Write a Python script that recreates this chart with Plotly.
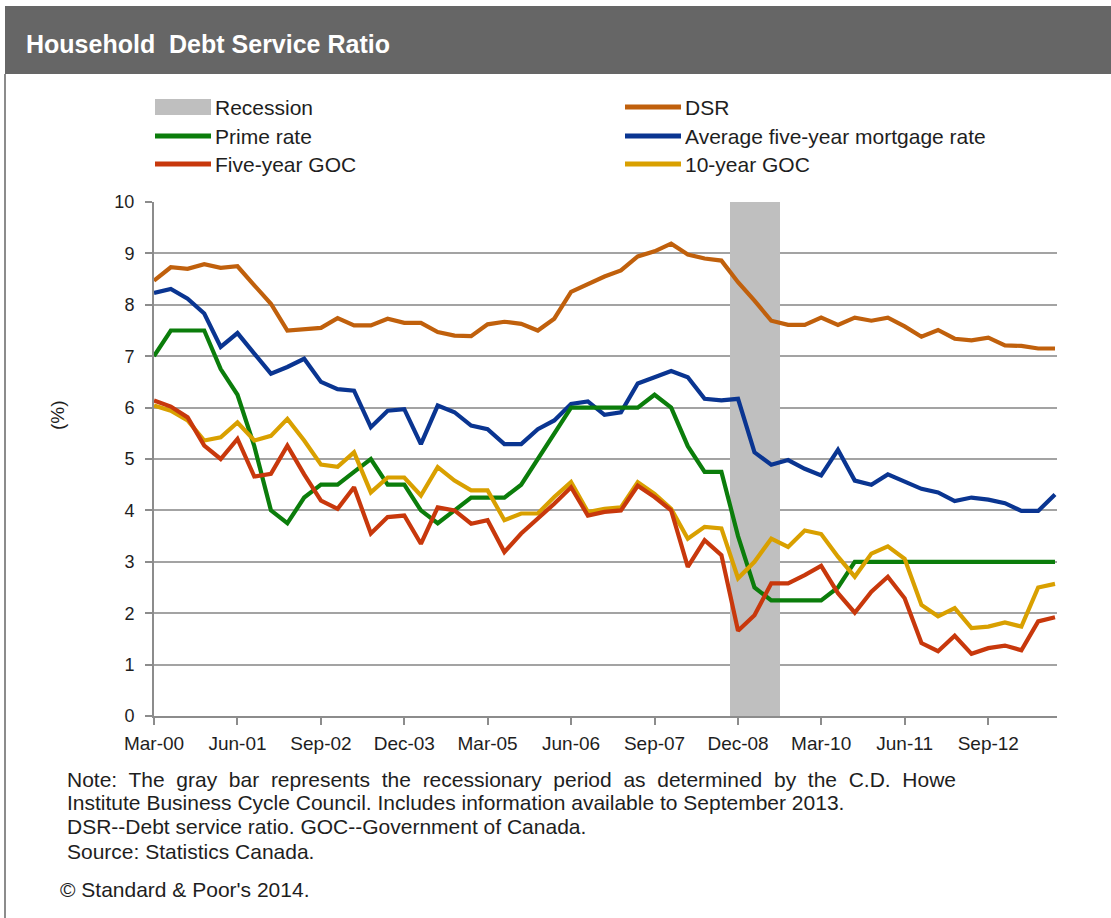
import pandas as pd
import plotly.graph_objects as go

# Quarterly observations, Mar-2000 through Sep-2013
quarters = pd.date_range("2000-03-01", periods=55, freq="3MS")

dsr = [8.47, 8.73, 8.70, 8.79, 8.72, 8.75, 8.38, 8.02, 7.50, 7.53,
       7.55, 7.74, 7.60, 7.60, 7.73, 7.65, 7.65, 7.47, 7.40, 7.39,
       7.62, 7.67, 7.63, 7.50, 7.73, 8.25, 8.40, 8.55, 8.67, 8.94,
       9.04, 9.19, 8.98, 8.90, 8.86, 8.44, 8.08, 7.69, 7.61, 7.61,
       7.75, 7.61, 7.75, 7.69, 7.75, 7.58, 7.38, 7.51, 7.34, 7.31,
       7.36, 7.21, 7.20, 7.15, 7.15]

mortgage_5y = [8.23, 8.31, 8.12, 7.83, 7.18, 7.45, 7.05, 6.66, 6.79, 6.95,
               6.50, 6.36, 6.33, 5.62, 5.94, 5.97, 5.29, 6.04, 5.91, 5.65,
               5.58, 5.29, 5.29, 5.58, 5.75, 6.07, 6.12, 5.86, 5.91, 6.47,
               6.59, 6.71, 6.59, 6.17, 6.14, 6.17, 5.13, 4.89, 4.98, 4.81,
               4.68, 5.18, 4.58, 4.50, 4.70, 4.55, 4.42, 4.35, 4.18, 4.25,
               4.21, 4.14, 3.99, 3.99, 4.31]

prime = [7.00, 7.50, 7.50, 7.50, 6.75, 6.25, 5.25, 4.00, 3.75, 4.25,
         4.50, 4.50, 4.75, 5.00, 4.50, 4.50, 4.00, 3.75, 4.00, 4.25,
         4.25, 4.25, 4.50, 5.00, 5.50, 6.00, 6.00, 6.00, 6.00, 6.00,
         6.25, 6.00, 5.25, 4.75, 4.75, 3.50, 2.50, 2.25, 2.25, 2.25,
         2.25, 2.50, 3.00, 3.00, 3.00, 3.00, 3.00, 3.00, 3.00, 3.00,
         3.00, 3.00, 3.00, 3.00, 3.00]

goc_5y = [6.14, 6.02, 5.81, 5.26, 5.00, 5.39, 4.66, 4.71, 5.26, 4.70,
          4.19, 4.03, 4.45, 3.55, 3.87, 3.90, 3.35, 4.06, 4.00, 3.74,
          3.81, 3.19, 3.55, 3.84, 4.13, 4.45, 3.90, 3.97, 4.00, 4.48,
          4.26, 4.00, 2.90, 3.42, 3.13, 1.66, 1.96, 2.58, 2.58, 2.74,
          2.92, 2.39, 2.01, 2.42, 2.71, 2.29, 1.42, 1.26, 1.56, 1.21,
          1.32, 1.37, 1.28, 1.84, 1.92]

goc_10y = [6.04, 5.94, 5.75, 5.36, 5.42, 5.71, 5.36, 5.45, 5.78, 5.36,
           4.89, 4.85, 5.13, 4.35, 4.64, 4.64, 4.29, 4.84, 4.58, 4.39,
           4.39, 3.81, 3.94, 3.94, 4.26, 4.55, 3.97, 4.03, 4.06, 4.55,
           4.32, 4.03, 3.45, 3.68, 3.65, 2.68, 3.00, 3.45, 3.29, 3.61,
           3.54, 3.10, 2.71, 3.16, 3.30, 3.06, 2.16, 1.94, 2.10, 1.71,
           1.74, 1.82, 1.74, 2.50, 2.57]

# Quarters flagged as recession by the C.D. Howe Business Cycle Council
recession_quarters = ["2008-12-01", "2009-03-01", "2009-06-01"]

Y_MAX = 10
FONT = "Arial, Liberation Sans, sans-serif"
TXT = "#1e1e1e"

COLORS = {
    "dsr": "#C0600C",
    "mortgage": "#0A3591",
    "prime": "#0B7D0B",
    "goc5": "#C8380C",
    "goc10": "#D9A000",
    "recession": "#BFBFBF",
}

W, H = 1111, 918
L, R, T, B = 154, 1057, 202, 716


def px(x):
    return (x - L) / (R - L)


def py(y):
    return (B - y) / (B - T)


fig = go.Figure()

quarter_ms = 92 * 24 * 3600 * 1000
fig.add_trace(go.Bar(
    x=recession_quarters, y=[Y_MAX] * len(recession_quarters),
    width=[quarter_ms] * len(recession_quarters),
    marker=dict(color=COLORS["recession"], line=dict(width=0)),
    name="Recession", showlegend=False, hoverinfo="skip",
))

series = [
    ("DSR", dsr, COLORS["dsr"]),
    ("Average five-year mortgage rate", mortgage_5y, COLORS["mortgage"]),
    ("Prime rate", prime, COLORS["prime"]),
    ("10-year GOC", goc_10y, COLORS["goc10"]),
    ("Five-year GOC", goc_5y, COLORS["goc5"]),
]
for name, vals, color in series:
    fig.add_trace(go.Scatter(
        x=quarters, y=vals, mode="lines", name=name,
        line=dict(color=color, width=4.2), showlegend=False,
    ))

shapes = []
annotations = []

# Title banner
shapes.append(dict(type="rect", xref="paper", yref="paper",
                   x0=px(5), x1=px(1115), y0=py(74), y1=py(6),
                   fillcolor="#666666", line=dict(width=0), layer="above"))
annotations.append(dict(xref="paper", yref="paper", x=px(24), y=py(44),
                        xanchor="left", yanchor="middle", showarrow=False,
                        text="<b>Household\u00a0 Debt Service Ratio</b>",
                        font=dict(family=FONT, size=25, color="white")))

# Frame line on the left
shapes.append(dict(type="line", xref="paper", yref="paper",
                   x0=px(5), x1=px(5), y0=py(74), y1=py(918),
                   line=dict(color="#8C8C8C", width=2)))

# Legend (two columns, three rows)
legend_rows = [
    ("Recession", "rect", COLORS["recession"], 155, 107),
    ("Prime rate", "line", COLORS["prime"], 155, 136),
    ("Five-year GOC", "line", COLORS["goc5"], 155, 164),
    ("DSR", "line", COLORS["dsr"], 625, 107),
    ("Average five-year mortgage rate", "line", COLORS["mortgage"], 625, 136),
    ("10-year GOC", "line", COLORS["goc10"], 625, 164),
]
for label, kind, color, x0, yc in legend_rows:
    if kind == "rect":
        shapes.append(dict(type="rect", xref="paper", yref="paper",
                           x0=px(x0), x1=px(x0 + 56), y0=py(yc + 8), y1=py(yc - 8),
                           fillcolor=color, line=dict(width=0)))
    else:
        shapes.append(dict(type="line", xref="paper", yref="paper",
                           x0=px(x0), x1=px(x0 + 56), y0=py(yc), y1=py(yc),
                           line=dict(color=color, width=5)))
    annotations.append(dict(xref="paper", yref="paper", x=px(x0 + 58), y=py(yc),
                            xanchor="left", yanchor="middle", showarrow=False,
                            text=label, font=dict(family=FONT, size=21, color=TXT)))

# Y-axis unit label
annotations.append(dict(xref="paper", yref="paper", x=px(57), y=py(415),
                        xanchor="center", yanchor="middle", showarrow=False,
                        text="(%)", textangle=-90,
                        font=dict(family=FONT, size=19, color=TXT)))

# Footnotes (first line set wide, as a justified paragraph)
note_first = "Note: The gray bar represents the recessionary period as determined by the C.D. Howe"
notes = [
    (note_first.replace(" ", "\u00a0 "), 65, 779),
    ("Institute Business Cycle Council. Includes information available to September 2013.", 65, 802),
    ("DSR--Debt service ratio. GOC--Government of Canada.", 65, 826),
    ("Source: Statistics Canada.", 65, 851),
    ("\u00a9 Standard & Poor's 2014.", 58, 889),
]
for text, x0, yc in notes:
    annotations.append(dict(xref="paper", yref="paper", x=px(x0), y=py(yc),
                            xanchor="left", yanchor="middle", showarrow=False,
                            text=text, font=dict(family=FONT, size=21, color=TXT)))

fig.update_layout(
    width=W, height=H,
    margin=dict(l=L, r=W - R, t=T, b=H - B),
    paper_bgcolor="white", plot_bgcolor="white",
    bargap=0,
    showlegend=False,
    shapes=shapes,
    annotations=annotations,
    font=dict(family=FONT, color=TXT),
    xaxis=dict(
        type="date",
        range=["2000-03-01", "2013-09-12"],
        tick0="2000-03-01", dtick="M15", tickformat="%b-%y",
        ticks="outside", ticklen=7, tickwidth=2, tickcolor="#8C8C8C",
        showline=True, linecolor="#8C8C8C", linewidth=2,
        showgrid=False, zeroline=False,
        tickfont=dict(family=FONT, size=19, color=TXT),
        ticklabelstandoff=2,
    ),
    yaxis=dict(
        range=[0, Y_MAX], dtick=1, tick0=0,
        ticks="outside", ticklen=7, tickwidth=2, tickcolor="#8C8C8C",
        showline=True, linecolor="#8C8C8C", linewidth=2,
        showgrid=True, gridcolor="#A3A3A3", gridwidth=1.5,
        zeroline=False,
        tickfont=dict(family=FONT, size=18, color=TXT),
        ticklabelstandoff=7,
    ),
)

fig.write_html("out.html")
